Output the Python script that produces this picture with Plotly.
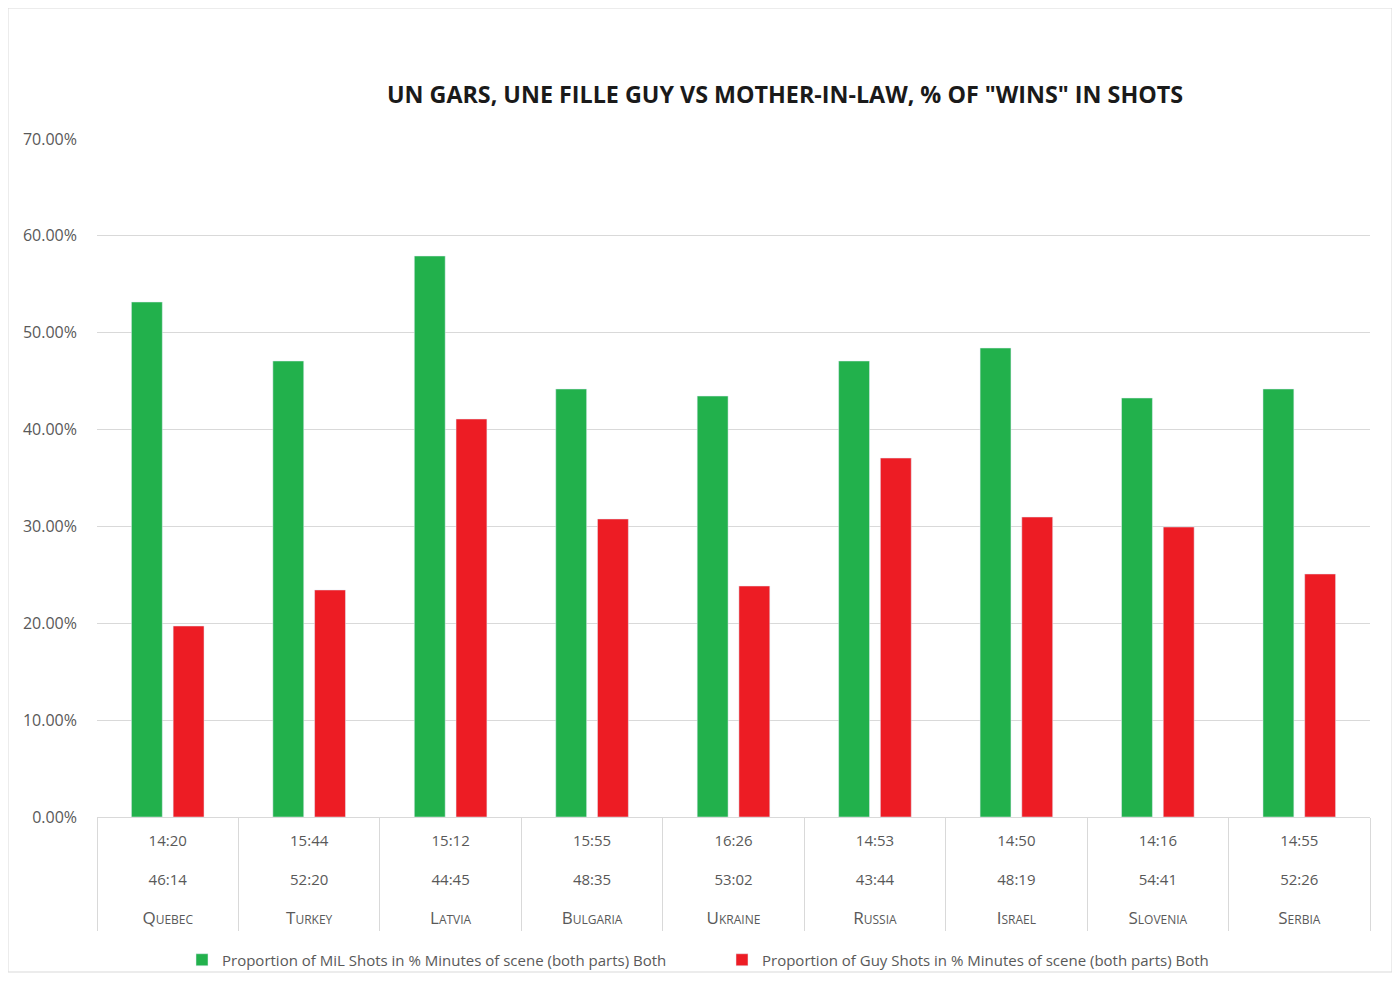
import plotly.graph_objects as go

countries = ["Quebec", "Turkey", "Latvia", "Bulgaria", "Ukraine", "Russia", "Israel", "Slovenia", "Serbia"]
scene_times = ["14:20", "15:44", "15:12", "15:55", "16:26", "14:53", "14:50", "14:16", "14:55"]
total_times = ["46:14", "52:20", "44:45", "48:35", "53:02", "43:44", "48:19", "54:41", "52:26"]
mil_share = [53.17, 47.08, 57.92, 44.19, 43.46, 47.08, 48.42, 43.26, 44.19]
guy_share = [19.72, 23.44, 41.09, 30.77, 23.85, 37.06, 30.97, 29.94, 25.09]
mil_name = "Proportion of MiL Shots in % Minutes of scene (both parts) Both"
guy_name = "Proportion of Guy Shots in % Minutes of scene (both parts) Both"
y_ticks = [0, 10, 20, 30, 40, 50, 60, 70]
y_ticktext = [f"{v:.2f}%" for v in y_ticks]

labels = [f"{a}<br> <br>{b}<br> <br><span style='font-size:17px'>{c}</span>"
          for a, b, c in zip(scene_times, total_times, countries)]

GREEN = "#22B14C"
RED = "#ED1C24"
GRAY = "#595959"
FONT = "Liberation Sans Narrow, Arial Narrow, Open Sans, sans-serif"

fig = go.Figure()
fig.add_trace(go.Bar(x=labels, y=mil_share, name=mil_name, marker_color=GREEN))
fig.add_trace(go.Bar(x=labels, y=guy_share, name=guy_name, marker_color=RED))

OFF = 8  # page body margin
W, H = 1384, 966
L, T = 97 - OFF, 139 - OFF
R = W - (1370 - OFF)
B = H - (817 - OFF)
pw, ph = W - L - R, H - T - B


def px_x(page_x):
    return (page_x - OFF - L) / pw


def px_y(page_y):
    return ((817 - OFF) - (page_y - OFF)) / ph


fig.update_layout(
    width=W, height=H,
    margin=dict(l=L, r=R, t=T, b=B, autoexpand=False),
    paper_bgcolor="white", plot_bgcolor="white",
    barmode="group", bargap=0.41, bargroupgap=0.26,
    font=dict(family=FONT, color=GRAY, size=15),
    title=dict(text="<b>UN GARS, UNE FILLE GUY VS MOTHER-IN-LAW, % OF \"WINS\" IN SHOTS</b>",
               x=(785 - OFF) / W, xanchor="center", xref="container",
               y=1 - (95 - OFF) / H, yanchor="middle", yref="container",
               font=dict(family=FONT, size=23.3, color="#1a1a1a")),
    legend=dict(orientation="h", x=px_x(182), xanchor="left", y=px_y(960),
                yanchor="middle", font=dict(size=15, color=GRAY),
                entrywidth=495, itemwidth=30, bgcolor="rgba(0,0,0,0)"),
    showlegend=True,
)
fig.update_yaxes(range=[0, 70], tickvals=y_ticks, ticktext=y_ticktext,
                 showgrid=True, gridcolor="#d9d9d9", gridwidth=1, zeroline=False,
                 showline=False, ticks="", ticklabelstandoff=19,
                 tickfont=dict(size=16, color=GRAY))
fig.update_xaxes(showgrid=False, showline=True, linecolor="#d9d9d9", linewidth=1,
                 ticks="outside", tickson="boundaries", ticklen=113, tickcolor="#d9d9d9",
                 ticklabelstandoff=10, tickfont=dict(size=15, color=GRAY, variant="small-caps"))

fig.add_shape(type="rect", xref="paper", yref="paper",
              x0=px_x(8), x1=px_x(1392), y0=px_y(972), y1=px_y(8),
              line=dict(color="#d9d9d9", width=1), fillcolor="rgba(0,0,0,0)", layer="below")

fig.write_html("out.html")
